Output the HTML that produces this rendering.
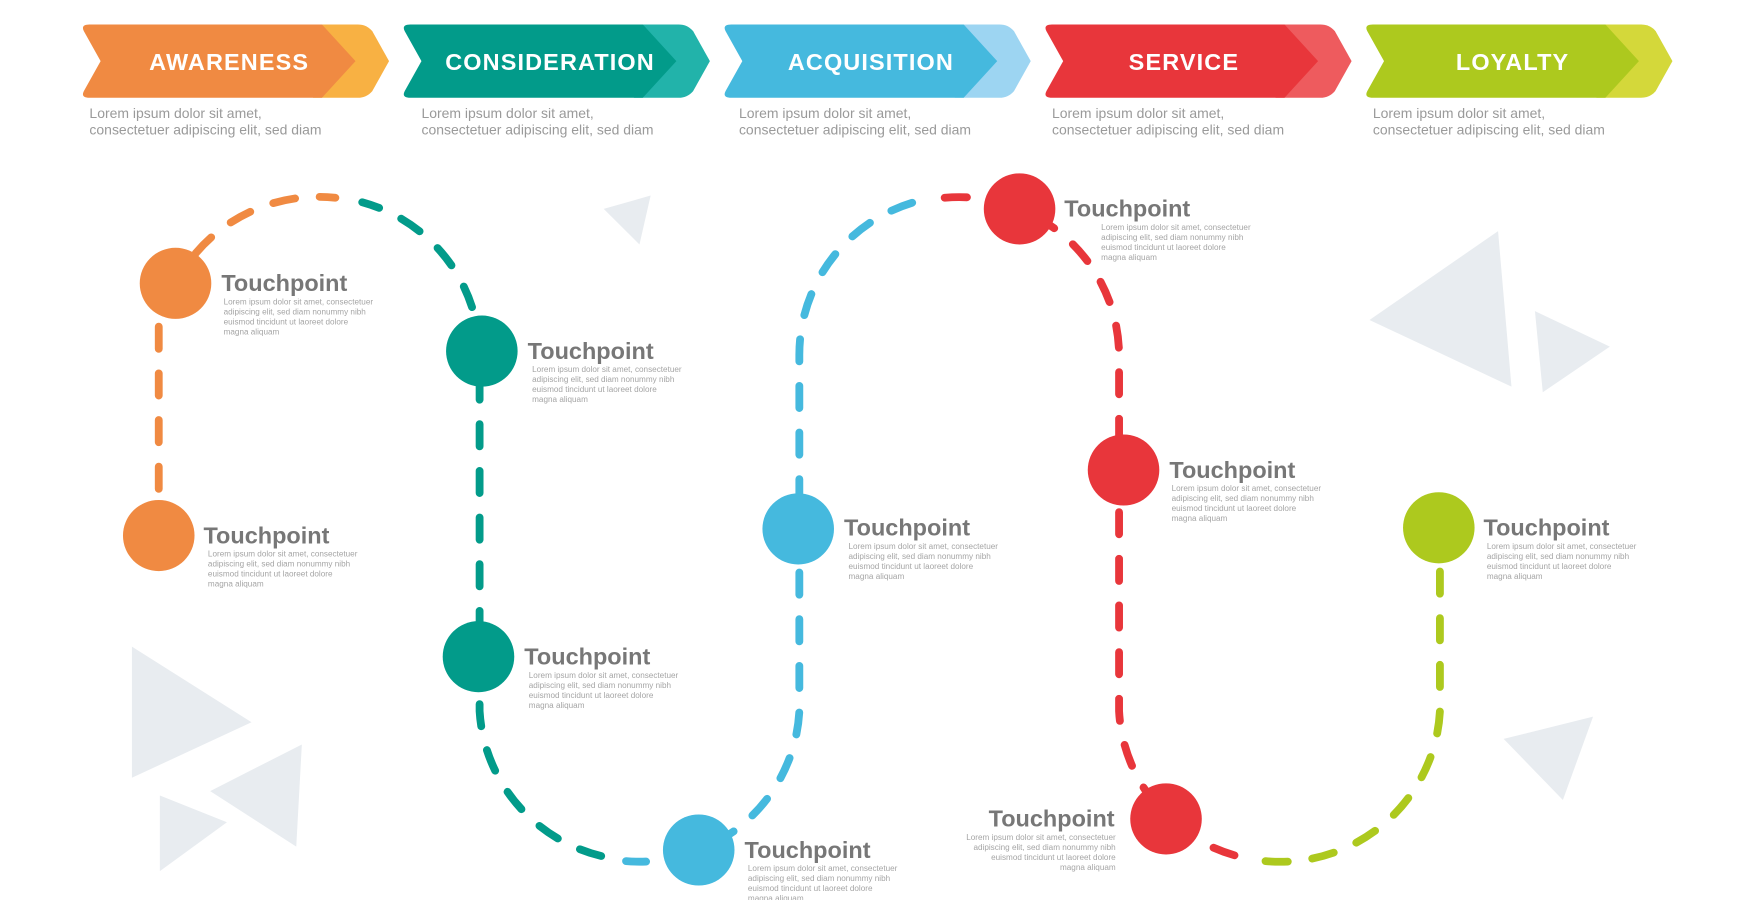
<!DOCTYPE html>
<html><head><meta charset="utf-8"><style>
html,body{margin:0;padding:0;background:#fff;width:1744px;height:900px;overflow:hidden}
svg{display:block}
.bt{font-family:"Liberation Sans",sans-serif;font-weight:bold;font-size:21px;fill:#fff;letter-spacing:1px}
.st{font-family:"Liberation Sans",sans-serif;font-size:12.5px;fill:#9a9a9a}
.tp{font-family:"Liberation Sans",sans-serif;font-weight:bold;font-size:21px;fill:#777}
.ds{font-family:"Liberation Sans",sans-serif;font-size:7.3px;fill:#a5a5a5}
.d{fill:none;stroke-width:7;stroke-linecap:round;stroke-dasharray:20 22}
</style></head><body>
<svg width="1744" height="900" viewBox="0 0 1560 810" preserveAspectRatio="none" xmlns="http://www.w3.org/2000/svg">
<g fill="#E8ECF0">
<polygon points="540,188 582,176 572,220"/>
<polygon points="1225,288 1340,208 1352,348"/>
<polygon points="1373,280 1440,312 1380,353"/>
<polygon points="118,582 225,650 118,700"/>
<polygon points="188,712 270,670 265,762"/>
<polygon points="143,716 203,740 143,784"/>
<polygon points="1345,665 1425,645 1398,720"/>
</g>
<g>
<path d="M280,22 h40 q8,0 13,6 L348,55 L333,82 q-5,6 -13,6 h-40 z" fill="#F8B143"/>
<path d="M80,22 h208 L318,55 L288,88 h-208 q-8,0 -5,-6 L90,55 L75,28 q-3,-6 5,-6 z" fill="#F08A42"/>
<text class="bt" x="205" y="63" text-anchor="middle">AWARENESS</text>
<text class="st" x="80" y="106">Lorem ipsum dolor sit amet,</text>
<text class="st" x="80" y="121">consectetuer adipiscing elit, sed diam</text>
</g>
<g transform="translate(287,0)">
<path d="M280,22 h40 q8,0 13,6 L348,55 L333,82 q-5,6 -13,6 h-40 z" fill="#22B3AA"/>
<path d="M80,22 h208 L318,55 L288,88 h-208 q-8,0 -5,-6 L90,55 L75,28 q-3,-6 5,-6 z" fill="#029B8A"/>
<text class="bt" x="205" y="63" text-anchor="middle">CONSIDERATION</text>
<text class="st" x="90" y="106">Lorem ipsum dolor sit amet,</text>
<text class="st" x="90" y="121">consectetuer adipiscing elit, sed diam</text>
</g>
<g transform="translate(574,0)">
<path d="M280,22 h40 q8,0 13,6 L348,55 L333,82 q-5,6 -13,6 h-40 z" fill="#9DD5F2"/>
<path d="M80,22 h208 L318,55 L288,88 h-208 q-8,0 -5,-6 L90,55 L75,28 q-3,-6 5,-6 z" fill="#45B9DE"/>
<text class="bt" x="205" y="63" text-anchor="middle">ACQUISITION</text>
<text class="st" x="87" y="106">Lorem ipsum dolor sit amet,</text>
<text class="st" x="87" y="121">consectetuer adipiscing elit, sed diam</text>
</g>
<g transform="translate(861,0)">
<path d="M280,22 h40 q8,0 13,6 L348,55 L333,82 q-5,6 -13,6 h-40 z" fill="#EE5B5E"/>
<path d="M80,22 h208 L318,55 L288,88 h-208 q-8,0 -5,-6 L90,55 L75,28 q-3,-6 5,-6 z" fill="#E8363B"/>
<text class="bt" x="198" y="63" text-anchor="middle">SERVICE</text>
<text class="st" x="80" y="106">Lorem ipsum dolor sit amet,</text>
<text class="st" x="80" y="121">consectetuer adipiscing elit, sed diam</text>
</g>
<g transform="translate(1148,0)">
<path d="M280,22 h40 q8,0 13,6 L348,55 L333,82 q-5,6 -13,6 h-40 z" fill="#D4D83A"/>
<path d="M80,22 h208 L318,55 L288,88 h-208 q-8,0 -5,-6 L90,55 L75,28 q-3,-6 5,-6 z" fill="#ADC91E"/>
<text class="bt" x="205" y="63" text-anchor="middle">LOYALTY</text>
<text class="st" x="80" y="106">Lorem ipsum dolor sit amet,</text>
<text class="st" x="80" y="121">consectetuer adipiscing elit, sed diam</text>
</g>
<path class="d" stroke="#F08A42" d="M142,440 L142,290 M175,228 A143,143 0 0 1 300,178"/>
<path class="d" stroke="#029B8A" d="M324,182 A143,143 0 0 1 429,320 L429,640 A143,143 0 0 0 545,772" stroke-dashoffset="4"/>
<path class="d" stroke="#45B9DE" d="M560,775 A143,143 0 0 0 715,640 L715,320 A143,143 0 0 1 825,180" stroke-dashoffset="2"/>
<path class="d" stroke="#E8363B" d="M845,178 A143,143 0 0 1 1001,320 L1001,640 A143,143 0 0 0 1105,770"/>
<path class="d" stroke="#ADC91E" d="M1132,775 A143,143 0 0 0 1288,640 L1288,510"/>
<circle cx="157" cy="255" r="32" fill="#F08A42"/>
<circle cx="142" cy="482" r="32" fill="#F08A42"/>
<circle cx="431" cy="316" r="32" fill="#029B8A"/>
<circle cx="428" cy="591" r="32" fill="#029B8A"/>
<circle cx="625" cy="765" r="32" fill="#45B9DE"/>
<circle cx="714" cy="476" r="32" fill="#45B9DE"/>
<circle cx="912" cy="188" r="32" fill="#E8363B"/>
<circle cx="1005" cy="423" r="32" fill="#E8363B"/>
<circle cx="1043" cy="737" r="32" fill="#E8363B"/>
<circle cx="1287" cy="475" r="32" fill="#ADC91E"/>
<g><text class="tp" x="198" y="262">Touchpoint</text>
<text class="ds" x="200" y="274">Lorem ipsum dolor sit amet, consectetuer</text><text class="ds" x="200" y="283">adipiscing elit, sed diam nonummy nibh</text><text class="ds" x="200" y="292">euismod tincidunt ut laoreet dolore</text><text class="ds" x="200" y="301">magna aliquam</text></g>
<g transform="translate(-16,227)"><text class="tp" x="198" y="262">Touchpoint</text>
<text class="ds" x="202" y="274">Lorem ipsum dolor sit amet, consectetuer</text><text class="ds" x="202" y="283">adipiscing elit, sed diam nonummy nibh</text><text class="ds" x="202" y="292">euismod tincidunt ut laoreet dolore</text><text class="ds" x="202" y="301">magna aliquam</text></g>
<g transform="translate(274,61)"><text class="tp" x="198" y="262">Touchpoint</text>
<text class="ds" x="202" y="274">Lorem ipsum dolor sit amet, consectetuer</text><text class="ds" x="202" y="283">adipiscing elit, sed diam nonummy nibh</text><text class="ds" x="202" y="292">euismod tincidunt ut laoreet dolore</text><text class="ds" x="202" y="301">magna aliquam</text></g>
<g transform="translate(271,336)"><text class="tp" x="198" y="262">Touchpoint</text>
<text class="ds" x="202" y="274">Lorem ipsum dolor sit amet, consectetuer</text><text class="ds" x="202" y="283">adipiscing elit, sed diam nonummy nibh</text><text class="ds" x="202" y="292">euismod tincidunt ut laoreet dolore</text><text class="ds" x="202" y="301">magna aliquam</text></g>
<g transform="translate(468,510)"><text class="tp" x="198" y="262">Touchpoint</text>
<text class="ds" x="201" y="274">Lorem ipsum dolor sit amet, consectetuer</text><text class="ds" x="201" y="283">adipiscing elit, sed diam nonummy nibh</text><text class="ds" x="201" y="292">euismod tincidunt ut laoreet dolore</text><text class="ds" x="201" y="301">magna aliquam</text></g>
<g transform="translate(557,220)"><text class="tp" x="198" y="262">Touchpoint</text>
<text class="ds" x="202" y="274">Lorem ipsum dolor sit amet, consectetuer</text><text class="ds" x="202" y="283">adipiscing elit, sed diam nonummy nibh</text><text class="ds" x="202" y="292">euismod tincidunt ut laoreet dolore</text><text class="ds" x="202" y="301">magna aliquam</text></g>
<g transform="translate(754,-67)"><text class="tp" x="198" y="262">Touchpoint</text>
<text class="ds" x="231" y="274">Lorem ipsum dolor sit amet, consectetuer</text><text class="ds" x="231" y="283">adipiscing elit, sed diam nonummy nibh</text><text class="ds" x="231" y="292">euismod tincidunt ut laoreet dolore</text><text class="ds" x="231" y="301">magna aliquam</text></g>
<g transform="translate(848,168)"><text class="tp" x="198" y="262">Touchpoint</text>
<text class="ds" x="200" y="274">Lorem ipsum dolor sit amet, consectetuer</text><text class="ds" x="200" y="283">adipiscing elit, sed diam nonummy nibh</text><text class="ds" x="200" y="292">euismod tincidunt ut laoreet dolore</text><text class="ds" x="200" y="301">magna aliquam</text></g>
<g text-anchor="end"><text class="tp" x="997" y="744">Touchpoint</text>
<text class="ds" x="998" y="756">Lorem ipsum dolor sit amet, consectetuer</text><text class="ds" x="998" y="765">adipiscing elit, sed diam nonummy nibh</text><text class="ds" x="998" y="774">euismod tincidunt ut laoreet dolore</text><text class="ds" x="998" y="783">magna aliquam</text></g>
<g transform="translate(1129,220)"><text class="tp" x="198" y="262">Touchpoint</text>
<text class="ds" x="201" y="274">Lorem ipsum dolor sit amet, consectetuer</text><text class="ds" x="201" y="283">adipiscing elit, sed diam nonummy nibh</text><text class="ds" x="201" y="292">euismod tincidunt ut laoreet dolore</text><text class="ds" x="201" y="301">magna aliquam</text></g>
</svg>
</body></html>
